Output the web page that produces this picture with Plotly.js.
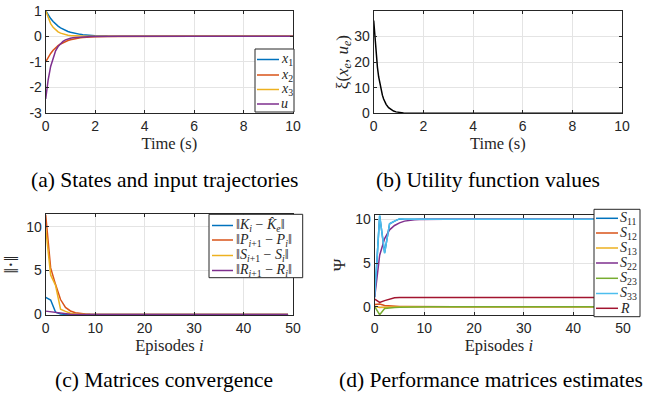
<!DOCTYPE html>
<html><head><meta charset="utf-8">
<script src="https://cdn.plot.ly/plotly-3.0.1.min.js"></script>
<style>html,body{margin:0;padding:0;background:#fff}#chart{width:646px;height:393px}</style>
</head><body><div id="chart"></div>
<script>
// ---------- data ----------
const timeA = [0,0.1,0.2,0.3,0.4,0.5,0.6,0.7,0.8,0.9,1.0,1.1,1.2,1.3,1.4,1.5,1.6,1.7,1.8,1.9,2.0,2.5,3,4,5,6,7,8,9,10];
const stateX1 = [1,0.831,0.691,0.574,0.477,0.397,0.330,0.274,0.228,0.189,0.157,0.131,0.109,0.090,0.075,0.062,0.052,0.043,0.036,0.030,0.025,0.010,0.004,0.001,0,0,0,0,0,0];
const stateX2 = [-1,-0.819,-0.670,-0.549,-0.449,-0.368,-0.301,-0.247,-0.202,-0.165,-0.135,-0.111,-0.091,-0.074,-0.061,-0.050,-0.041,-0.033,-0.027,-0.022,-0.018,-0.007,-0.002,0,0,0,0,0,0,0];
const stateX3 = [1,0.705,0.497,0.350,0.247,0.174,0.122,0.086,0.061,0.043,0.030,0.021,0.015,0.011,0.007,0.005,0.004,0.003,0.002,0.001,0.001,0,0,0,0,0,0,0,0,0];
const inputU = [-2.45,-1.70,-1.18,-0.82,-0.57,-0.40,-0.28,-0.20,-0.14,-0.10,-0.075,-0.060,-0.048,-0.039,-0.031,-0.025,-0.020,-0.016,-0.013,-0.010,-0.008,-0.003,-0.001,0,0,0,0,0,0,0];
const namesA = ['<i>x</i><sub>1</sub>','<i>x</i><sub>2</sub>','<i>x</i><sub>3</sub>','<i>u</i>'];

const timeB = [0,0.05,0.1,0.15,0.2,0.25,0.3,0.35,0.4,0.5,0.6,0.7,0.8,0.9,1.0,1.2,1.4,1.6,2,3,4,5,6,7,8,9,10];
const utilityXi = [36.3,28.7,22.7,18.0,14.2,11.3,8.9,7.1,5.6,3.5,2.2,1.4,0.88,0.55,0.35,0.14,0.05,0.02,0.003,0,0,0,0,0,0,0,0];

const episodes = [0,1,2,3,4,5,6,7,8,9,10,11,12,13,14,15,16,17,18,19,20,21,22,23,24,25,26,27,28,29,30,31,32,33,34,35,36,37,38,39,40,41,42,43,44,45,46,47,48,49];
const normK = [1.95,1.65,0.25,0.05,0.01,0,0,0,0,0, 0,0,0,0,0,0,0,0,0,0, 0,0,0,0,0,0,0,0,0,0, 0,0,0,0,0,0,0,0,0,0, 0,0,0,0,0,0,0,0,0,0];
const normP = [11.35,5.3,3.4,1.7,0.8,0.4,0.2,0.1,0.05,0.02, 0.01,0,0,0,0,0,0,0,0,0, 0,0,0,0,0,0,0,0,0,0, 0,0,0,0,0,0,0,0,0,0, 0,0,0,0,0,0,0,0,0,0];
const normS = [9.8,4.5,3.3,0.6,0.35,0.15,0.06,0.02,0.01,0, 0,0,0,0,0,0,0,0,0,0, 0,0,0,0,0,0,0,0,0,0, 0,0,0,0,0,0,0,0,0,0, 0,0,0,0,0,0,0,0,0,0];
const normR = [0.38,0.3,0.2,0.12,0.06,0.03,0.01,0,0,0, 0,0,0,0,0,0,0,0,0,0, 0,0,0,0,0,0,0,0,0,0, 0,0,0,0,0,0,0,0,0,0, 0,0,0,0,0,0,0,0,0,0];
const namesC = ['‖<i>K</i><sub><i>i</i></sub> − <i>K̂</i><sub><i>e</i></sub>‖','‖<i>P</i><sub><i>i</i>+1</sub> − <i>P</i><sub><i>i</i></sub>‖','‖<i>S</i><sub><i>i</i>+1</sub> − <i>S</i><sub><i>i</i></sub>‖','‖<i>R</i><sub><i>i</i>+1</sub> − <i>R</i><sub><i>i</i></sub>‖'];

const estS11 = [1.1,10.4,6.2,9.5,9.8,10.05,10,10,10,10, 10,10,10,10,10,10,10,10,10,10, 10,10,10,10,10,10,10,10,10,10, 10,10,10,10,10,10,10,10,10,10, 10,10,10,10,10,10,10,10,10,10];
const estS12 = [0.25,0.3,0.15,0.08,0.04,0.02,0.01,0,0,0, 0,0,0,0,0,0,0,0,0,0, 0,0,0,0,0,0,0,0,0,0, 0,0,0,0,0,0,0,0,0,0, 0,0,0,0,0,0,0,0,0,0];
const estS13 = [0.05,-0.1,-0.05,-0.02,0,0,0,0,0,0, 0,0,0,0,0,0,0,0,0,0, 0,0,0,0,0,0,0,0,0,0, 0,0,0,0,0,0,0,0,0,0, 0,0,0,0,0,0,0,0,0,0];
const estS22 = [1.1,5.9,7.8,8.8,9.3,9.6,9.8,9.9,9.95,9.98, 10,10,10,10,10,10,10,10,10,10, 10,10,10,10,10,10,10,10,10,10, 10,10,10,10,10,10,10,10,10,10, 10,10,10,10,10,10,10,10,10,10];
const estS23 = [0,-0.92,-0.2,-0.12,-0.08,-0.05,-0.03,-0.01,0,0, 0,0,0,0,0,0,0,0,0,0, 0,0,0,0,0,0,0,0,0,0, 0,0,0,0,0,0,0,0,0,0, 0,0,0,0,0,0,0,0,0,0];
const estS33 = [1.1,10.45,6.1,9.5,9.8,10.08,10.02,10,10,10, 10,10,10,10,10,10,10,10,10,10, 10,10,10,10,10,10,10,10,10,10, 10,10,10,10,10,10,10,10,10,10, 10,10,10,10,10,10,10,10,10,10];
const estR = [0.87,0.5,0.7,0.9,1.03,1.05,1.05,1.05,1.05,1.05, 1.05,1.05,1.05,1.05,1.05,1.05,1.05,1.05,1.05,1.05, 1.05,1.05,1.05,1.05,1.05,1.05,1.05,1.05,1.05,1.05, 1.05,1.05,1.05,1.05,1.05,1.05,1.05,1.05,1.05,1.05, 1.05,1.05,1.05,1.05,1.05,1.05,1.05,1.05,1.05,1.05];
const namesD = ['<i>S</i><sub>11</sub>','<i>S</i><sub>12</sub>','<i>S</i><sub>13</sub>','<i>S</i><sub>22</sub>','<i>S</i><sub>23</sub>','<i>S</i><sub>33</sub>','<i>R</i>'];

const captions = ['(a) States and input trajectories','(b) Utility function values','(c) Matrices convergence','(d) Performance matrices estimates'];

// ---------- styling ----------
const W = 646, H = 393;
const C = ['#0072BD','#D95319','#EDB120','#7E2F8E','#77AC30','#4DBEEE','#A2142F'];
const px = v => v / W, py = v => 1 - v / H;
const SERIF = 'Liberation Serif, Times New Roman, serif';
const SANS = 'Liberation Sans, Arial, Helvetica, sans-serif';
const INK = '#262626';

function tr(x, y, name, color, xa, ya) {
  return {type:'scatter', mode:'lines', x:x, y:y, name:name.replace(/<[^>]+>/g,''), xaxis:xa, yaxis:ya,
          line:{color:color, width:1.5}, showlegend:false, hoverinfo:'skip'};
}

const traces = [];
[stateX1, stateX2, stateX3, inputU].forEach((s,i)=>traces.push(tr(timeA, s, namesA[i], C[i], 'x', 'y')));
traces.push(tr(timeB, utilityXi, 'xi', '#000000', 'x2', 'y2'));
[normK, normP, normS, normR].forEach((s,i)=>traces.push(tr(episodes, s, namesC[i], C[i], 'x3', 'y3')));
[estS11, estS12, estS13, estS22, estS23, estS33, estR].forEach((s,i)=>traces.push(tr(episodes, s, namesD[i], C[i], 'x4', 'y4')));

function ax(extra) {
  return Object.assign({showline:true, linecolor:INK, linewidth:1, mirror:'ticks', ticks:'inside', ticklen:3,
    tickcolor:INK, tickwidth:1, showgrid:true, gridcolor:'#e4e4e4', gridwidth:1, zeroline:false,
    tickfont:{family:SANS, size:14, color:INK}, fixedrange:true}, extra);
}
const xTitle = t => ({text:t, font:{family:SERIF, size:16.5, color:INK}, standoff:2});
const yTitle = (t, s, so) => ({text:t, font:{family:SERIF, size:s, color:INK}, standoff:so});

const shapes = [], annotations = [];
function legend(box, lineX0, lineX1, textX, rowsY, names, colors, fsize) {
  shapes.push({type:'rect', xref:'paper', yref:'paper', x0:px(box[0]), x1:px(box[2]), y0:py(box[1]), y1:py(box[3]),
               line:{color:INK, width:1}, fillcolor:'#ffffff', layer:'above'});
  names.forEach((n,i)=>{
    shapes.push({type:'line', xref:'paper', yref:'paper', x0:px(lineX0), x1:px(lineX1), y0:py(rowsY[i]), y1:py(rowsY[i]),
                 line:{color:colors[i], width:1.5}, layer:'above'});
    annotations.push({xref:'paper', yref:'paper', x:px(textX), y:py(rowsY[i]), xanchor:'left', yanchor:'middle',
                      text:n, showarrow:false, font:{family:SERIF, size:fsize, color:INK}, borderpad:0});
  });
}
legend([255,49,294,112], 257, 279, 280, [59.5,75,89.5,104], namesA, C, 14);
legend([209,214.3,302.7,277.7], 212, 233, 235, [225.5,240,255.5,270.5], namesC, C, 14);
legend([594,209.3,640,316.7], 596, 618, 619, [218.3,233,248,263,278.3,293.5,308.3], namesD, C, 14);

const capPos = [[164,180],[488,180],[164,380],[491,380]];
captions.forEach((c,i)=>annotations.push({xref:'paper', yref:'paper', x:px(capPos[i][0]), y:py(capPos[i][1]),
   xanchor:'center', yanchor:'middle', text:c, showarrow:false, font:{family:SERIF, size:21.5, color:'#000'}}));

const layout = {
  width:W, height:H, margin:{l:0,r:0,t:0,b:0}, paper_bgcolor:'#fff', plot_bgcolor:'#fff', showlegend:false,
  xaxis: ax({domain:[px(45.7),px(293)], range:[0,10], dtick:2, anchor:'y', title:xTitle('Time (s)')}),
  yaxis: ax({domain:[py(113),py(10.7)], range:[-3,1], tickvals:[-3,-2,-1,0,1], ticktext:['-3','-2','-1','0','1'], anchor:'x'}),
  xaxis2: ax({domain:[px(373.7),px(622)], range:[0,10], dtick:2, anchor:'y2', title:xTitle('Time (s)')}),
  yaxis2: ax({domain:[py(113.3),py(11)], range:[0,40], tickvals:[0,10,20,30], anchor:'x2',
              title:yTitle('ξ(<i>x</i><sub><i>e</i></sub>, <i>u</i><sub><i>e</i></sub>)', 17, 1)}),
  xaxis3: ax({domain:[px(45.7),px(293)], range:[0,50], dtick:10, anchor:'y3', title:xTitle('Episodes <i>i</i>')}),
  yaxis3: ax({domain:[py(315),py(214.3)], range:[-0.06,11.4], tickvals:[0,5,10], anchor:'x3', title:yTitle('‖·‖', 20, 6)}),
  xaxis4: ax({domain:[px(374.7),px(623)], range:[0,50], dtick:10, anchor:'y4', title:xTitle('Episodes <i>i</i>')}),
  yaxis4: ax({domain:[py(315),py(215)], range:[-0.95,10.5], tickvals:[0,5,10], anchor:'x4', title:yTitle('Ψ', 17, 5)}),
  shapes:shapes, annotations:annotations
};
Plotly.newPlot('chart', traces, layout, {staticPlot:true, displayModeBar:false});
</script></body></html>
